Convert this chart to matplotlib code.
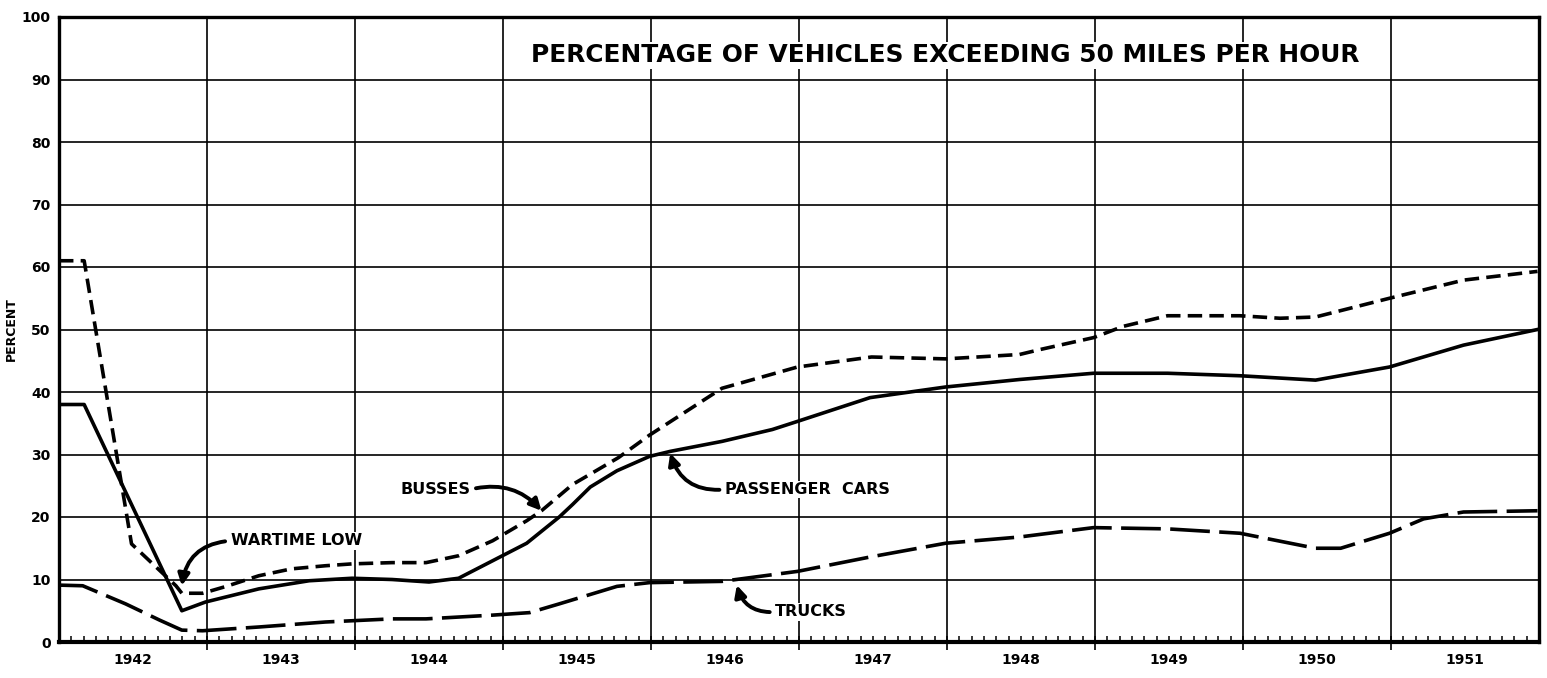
import numpy as np
import matplotlib.pyplot as plt
from matplotlib import font_manager

# values (x = year position, label centred in each year band)
car_x = [1941.5, 1941.67, 1942.33, 1942.49, 1942.85, 1943.19, 1943.48, 1943.75, 1944.0, 1944.2,
         1944.43, 1944.66, 1944.77, 1944.88, 1944.97, 1945.09, 1945.27, 1945.49, 1945.63, 1945.98,
         1946.32, 1946.49, 1946.98, 1947.49, 1947.99, 1948.49, 1948.99, 1949.48, 1949.99, 1950.49,
         1950.99, 1951.49]
car_y = [38, 38, 5, 6.4, 8.5, 9.8, 10.2, 10.0, 9.6, 10.2,
         13.0, 15.8, 17.9, 20.0, 22.0, 24.8, 27.4, 29.7, 30.5, 32.1,
         34.0, 35.3, 39.1, 40.8, 42.0, 43.0, 43.0, 42.6, 41.9, 44.0,
         47.5, 50.0]

bus_x = [1941.5, 1941.67, 1941.99, 1942.29, 1942.33, 1942.47, 1942.63, 1942.85, 1943.07, 1943.3,
         1943.48, 1943.75, 1943.98, 1944.2, 1944.43, 1944.66, 1944.76, 1944.97, 1945.28, 1945.49,
         1945.98, 1946.49, 1946.99, 1947.49, 1947.99, 1948.13, 1948.49, 1948.69, 1948.99, 1949.48,
         1949.75, 1949.99, 1950.49, 1950.99, 1951.49]
bus_y = [61, 61, 15.7, 9.0, 7.8, 7.8, 8.9, 10.6, 11.7, 12.2,
         12.5, 12.7, 12.7, 13.8, 16.2, 19.4, 21.0, 25.2, 29.5, 33.1,
         40.6, 44.0, 45.6, 45.3, 46.0, 46.8, 48.7, 50.5, 52.2, 52.2,
         51.8, 52.0, 55.0, 57.9, 59.3]

truck_x = [1941.5, 1941.66, 1941.95, 1942.18, 1942.33, 1942.47, 1942.85, 1943.3, 1943.75, 1943.98,
           1944.43, 1944.68, 1944.88, 1945.27, 1945.49, 1945.98, 1946.49, 1946.98, 1947.49, 1947.99,
           1948.49, 1948.99, 1949.48, 1949.99, 1950.16, 1950.49, 1950.72, 1950.99, 1951.49]
truck_y = [9.1, 9.0, 6.1, 3.5, 1.9, 1.8, 2.4, 3.2, 3.7, 3.7,
           4.3, 4.7, 6.1, 8.9, 9.5, 9.7, 11.3, 13.6, 15.8, 16.8,
           18.3, 18.1, 17.4, 15.0, 15.0, 17.4, 19.7, 20.8, 21.0]

years = [1942, 1943, 1944, 1945, 1946, 1947, 1948, 1949, 1950, 1951]
title = "PERCENTAGE OF VEHICLES EXCEEDING 50 MILES PER HOUR"

# narrow lettering for the title if the font is there
installed = {f.name for f in font_manager.fontManager.ttflist}
if 'Liberation Sans Narrow' in installed:
    title_font, title_size = 'Liberation Sans Narrow', 20.5
else:
    title_font, title_size = 'DejaVu Sans', 17.9

fig = plt.figure(figsize=(15.47, 6.78), dpi=100)
ax = fig.add_axes([59 / 1547, 36 / 678, 1480 / 1547, 625 / 678])
ax.set_xlim(1941.5, 1951.5)
ax.set_ylim(0, 100)

# grid: horizontal every 10 percent, vertical at year boundaries
ax.set_yticks(range(0, 101, 10))
ax.set_yticklabels([str(v) for v in range(0, 101, 10)], fontweight='bold', fontsize=10)
ax.tick_params(axis='y', length=0, pad=6)
ax.yaxis.grid(True, color='black', lw=1.2)

bounds = [y + 0.5 for y in years[:-1]]
ax.set_xticks(bounds)
ax.set_xticklabels([])
ax.xaxis.grid(True, which='major', color='black', lw=1.2)
ax.tick_params(axis='x', which='major', length=6, width=1.2, direction='out')
ax.set_xticks(years, minor=True)
ax.set_xticklabels([str(y) for y in years], minor=True, fontweight='bold', fontsize=10)
ax.tick_params(axis='x', which='minor', length=0, pad=8)

# monthly ticks along the base line
months = np.arange(1941.5, 1951.5, 1 / 12)
ax.vlines(months, 0, 0.9, color='black', lw=1.1, zorder=3)

for s in ax.spines.values():
    s.set_linewidth(2.4)
ax.spines['bottom'].set_linewidth(3)

ax.set_ylabel("PERCENT", fontweight='bold', fontsize=9)
ax.yaxis.set_label_coords(-0.028, 0.5)

ax.plot(car_x, car_y, color='black', lw=2.6, solid_joinstyle='round', zorder=4)
ax.plot(bus_x, bus_y, color='black', lw=2.6, dashes=(4, 2), zorder=4)
ax.plot(truck_x, truck_y, color='black', lw=2.6, dashes=(11, 2.6), zorder=4)

box = dict(facecolor='white', edgecolor='none', pad=1)
ax.text(1947.49, 93.9, title, ha='center', va='center', fontsize=title_size,
        family=title_font, fontweight='bold', bbox=box, zorder=5)


def label(txt, xy, xytext, ha, rel, rad):
    ax.annotate(txt, xy=xy, xytext=xytext, ha=ha, va='center', fontsize=11.5,
                fontweight='bold', bbox=box, zorder=5,
                arrowprops=dict(arrowstyle='-|>', color='black', lw=2.8, mutation_scale=17,
                                relpos=rel, shrinkA=3, shrinkB=0,
                                connectionstyle='arc3,rad=%s' % rad))


label("WARTIME LOW", (1942.33, 9.0), (1942.66, 16.2), 'left', (0, 0.5), 0.4)
label("BUSSES", (1944.76, 21.0), (1944.28, 24.4), 'right', (1, 0.5), -0.3)
label("PASSENGER  CARS", (1945.63, 30.2), (1946.0, 24.4), 'left', (0, 0.5), -0.4)
label("TRUCKS", (1946.08, 9.1), (1946.34, 4.8), 'left', (0, 0.5), -0.4)

plt.savefig('out.png', dpi=100)
